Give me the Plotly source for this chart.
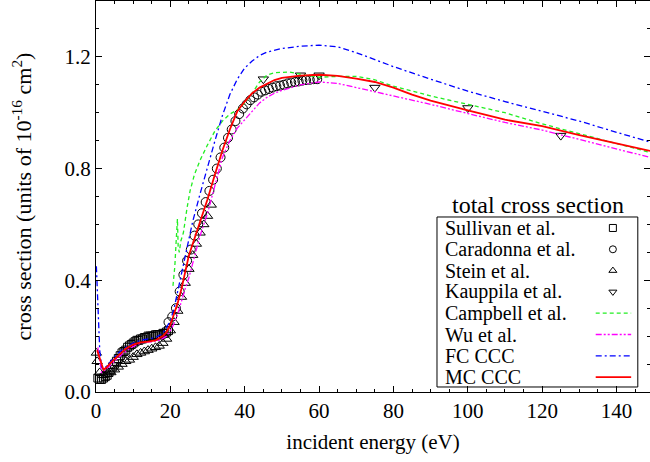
import plotly.graph_objects as go

# -- total cross section: experiment vs. CCC calculations

sullivan_e = [0.5, 1, 1.5, 2, 2.5, 3, 3.5, 4, 4.5, 5, 5.5, 6, 6.5, 7, 7.5, 8, 8.5, 9, 9.5, 10,
              10.5, 11, 11.5, 12, 12.5, 13, 13.5, 14, 14.5, 15, 15.5, 16, 16.5, 17, 17.5, 18, 18.5, 19, 19.5]
sullivan_s = [0.05, 0.045, 0.045, 0.05, 0.055, 0.06, 0.07, 0.08, 0.09, 0.1, 0.11, 0.12, 0.13, 0.14, 0.145,
              0.15, 0.16, 0.165, 0.17, 0.175, 0.18, 0.185, 0.185, 0.19, 0.19, 0.195, 0.195, 0.2, 0.2, 0.2,
              0.2, 0.205, 0.205, 0.205, 0.205, 0.21, 0.21, 0.215, 0.22]

caradonna_e = [19.5, 20.5, 21.5, 22.5, 23.5, 24.5, 25.5, 26.5, 27.5, 28.5, 29.5, 30.5, 31.5, 32.5, 33.5,
               34.5, 35.5, 36.5, 37.5, 38.5, 39.5, 40.5, 41.5, 42.5, 43.5, 44.5, 45.5, 46.5, 47.5, 48.5,
               49.5, 50.5, 51.5, 52.5, 53.5, 54.5, 55.5, 56.5, 57.5, 58.5, 59.5]
caradonna_s = [0.25, 0.27, 0.3, 0.36, 0.42, 0.47, 0.51, 0.56, 0.6, 0.64, 0.68, 0.72, 0.76, 0.8, 0.84,
               0.875, 0.91, 0.94, 0.97, 0.995, 1.015, 1.03, 1.045, 1.055, 1.065, 1.075, 1.08, 1.085, 1.09,
               1.095, 1.097, 1.1, 1.105, 1.108, 1.11, 1.112, 1.115, 1.117, 1.118, 1.12, 1.12]

stein_e = [0.1, 0.3, 1, 2, 3, 4, 5, 6, 7, 8, 9, 10, 11, 12, 13, 14, 15, 16, 17, 18, 19, 20,
           21, 22, 23, 24, 25, 26, 27, 28, 29, 30, 31]
stein_s = [0.14, 0.11, 0.07, 0.06, 0.065, 0.07, 0.08, 0.09, 0.1, 0.11, 0.115, 0.125, 0.135, 0.14,
           0.145, 0.15, 0.155, 0.16, 0.165, 0.175, 0.19, 0.22, 0.25, 0.29, 0.34, 0.39, 0.44, 0.49,
           0.53, 0.57, 0.6, 0.63, 0.67]

kauppila_e = [45, 55, 60, 75, 100, 125]
kauppila_s = [1.12, 1.134, 1.134, 1.09, 1.017, 0.918]

campbell_e = [20.7, 21.2, 21.6, 21.9, 22.1, 22.4, 22.8, 23.5, 24.5, 25.3, 26.5, 28, 30, 32, 34, 36, 38,
              40, 42, 44, 46, 48, 52, 56, 60, 65, 70, 75, 80, 90, 100, 110, 120, 130, 140, 149]
campbell_s = [0.38, 0.45, 0.55, 0.62, 0.52, 0.5, 0.54, 0.57, 0.66, 0.72, 0.78, 0.83, 0.885, 0.935, 0.97,
              0.995, 1.01, 1.035, 1.07, 1.11, 1.135, 1.143, 1.146, 1.135, 1.127, 1.13, 1.13, 1.118,
              1.095, 1.06, 1.03, 1.0, 0.96, 0.925, 0.89, 0.858]

wu_e = [0.5, 1.5, 3, 5, 7, 9, 11, 13, 15, 17, 19, 20, 21, 22, 23, 24, 25, 26, 27, 28, 30, 32, 34, 36,
        38, 40, 42, 44, 46, 48, 50, 55, 60, 65, 70, 75, 80, 90, 100, 110, 120, 130, 140, 149]
wu_s = [0.16, 0.07, 0.085, 0.11, 0.135, 0.155, 0.17, 0.178, 0.18, 0.185, 0.2, 0.22, 0.245, 0.28, 0.33,
        0.37, 0.41, 0.46, 0.52, 0.56, 0.64, 0.74, 0.84, 0.9, 0.945, 0.975, 1.005, 1.035, 1.055, 1.07,
        1.08, 1.1, 1.11, 1.105, 1.09, 1.075, 1.06, 1.03, 0.997, 0.965, 0.938, 0.905, 0.87, 0.84]

fc_e = [0.1, 0.5, 1, 1.5, 2, 4, 6, 8, 10, 12, 14, 16, 18, 20, 21, 22, 24, 26, 28, 30, 32, 34, 36, 38,
        40, 42, 44, 46, 50, 55, 60, 65, 70, 75, 80, 90, 100, 110, 120, 130, 140, 149]
fc_s = [0.45, 0.3, 0.15, 0.09, 0.08, 0.11, 0.14, 0.16, 0.175, 0.185, 0.19, 0.195, 0.21, 0.255, 0.3,
        0.36, 0.49, 0.61, 0.71, 0.81, 0.9, 0.99, 1.065, 1.12, 1.16, 1.185, 1.205, 1.217, 1.23, 1.238,
        1.242, 1.236, 1.215, 1.19, 1.165, 1.12, 1.077, 1.04, 1.005, 0.97, 0.93, 0.895]

mc_e = [0.3, 1, 2, 3, 4, 6, 8, 10, 12, 14, 16, 18, 19, 20, 21, 22, 23, 24, 25, 26, 27, 28, 30, 32, 34,
        36, 38, 40, 42, 44, 46, 48, 50, 55, 60, 65, 70, 75, 80, 85, 90, 95, 100, 110, 120, 130, 140, 149]
mc_s = [0.15, 0.12, 0.08, 0.09, 0.105, 0.13, 0.155, 0.17, 0.178, 0.18, 0.185, 0.2, 0.215, 0.24, 0.28,
        0.32, 0.37, 0.43, 0.49, 0.53, 0.57, 0.605, 0.69, 0.78, 0.865, 0.94, 1.005, 1.04, 1.07, 1.09,
        1.105, 1.117, 1.125, 1.133, 1.136, 1.132, 1.122, 1.11, 1.09, 1.065, 1.043, 1.025, 1.008, 0.975,
        0.952, 0.92, 0.89, 0.863]

font = "Liberation Serif"
mk = {'color': 'rgba(0,0,0,0)', 'line': {'color': 'black', 'width': 1}}

points = [
    ("Sullivan et al.", sullivan_e, sullivan_s, "square-open", 8),
    ("Caradonna et al.", caradonna_e, caradonna_s, "circle-open", 9),
    ("Stein et al.", stein_e, stein_s, "triangle-up-open", 9),
    ("Kauppila et al.", kauppila_e, kauppila_s, "triangle-down-open", 9),
]
curves = [
    ("Campbell et al.", campbell_e, campbell_s, "#22ee22", "4px,3px", 1.3),
    ("Wu et al.", wu_e, wu_s, "#ff00ff", "6px,2px,2px,2px,2px,2px", 1.3),
    ("FC CCC", fc_e, fc_s, "#0000ff", "6px,3px,2px,3px", 1.3),
    ("MC CCC", mc_e, mc_s, "#ff0000", "solid", 1.8),
]

fig = go.Figure()
for name, e, s, sym, sz in points:
    fig.add_trace(go.Scatter(x=e, y=s, mode='markers', name=name, cliponaxis=False,
                             marker=dict(mk, symbol=sym, size=sz, color='black')))
for name, e, s, col, dash, w in curves:
    fig.add_trace(go.Scatter(x=e, y=s, mode='lines', name=name,
                             line={'color': col, 'dash': dash, 'width': w}))

# hand-made legend, gnuplot style (text left, sample right)
x0, x1 = 0.6155, 0.978
row_y = [0.4195 - 0.0545 * i for i in range(8)]
names = [p[0] for p in points] + [c[0] for c in curves]
for i, (name, e, s, sym, sz) in enumerate(points):
    fig.add_trace(go.Scatter(x=[0.933], y=[row_y[i]], mode='markers', xaxis='x2', yaxis='y2',
                             showlegend=False, cliponaxis=False,
                             marker=dict(mk, symbol=sym, size=7, color='black')))
for j, (name, e, s, col, dash, w) in enumerate(curves):
    yy = row_y[4 + j]
    fig.add_trace(go.Scatter(x=[0.902, 0.966], y=[yy, yy], mode='lines', xaxis='x2', yaxis='y2',
                             showlegend=False, cliponaxis=False,
                             line={'color': col, 'dash': dash, 'width': w}))
for i, name in enumerate(names):
    fig.add_annotation(x=0.626, y=row_y[i], xref='paper', yref='paper', text=name, showarrow=False,
                       xanchor='left', yanchor='middle', font={'size': 20, 'color': 'black'})
fig.add_annotation(x=0.798, y=0.478, xref='paper', yref='paper', text="total cross section",
                   showarrow=False, xanchor='center', yanchor='middle', font={'size': 24, 'color': 'black'})
fig.add_shape(type='rect', xref='paper', yref='paper', x0=x0, x1=x1, y0=0.0128, y1=0.4476,
              line={'color': 'black', 'width': 1})

axis_common = dict(ticks='inside', mirror='ticks', showline=True, linecolor='black', linewidth=1,
                   showgrid=False, zeroline=False, tickcolor='black', ticklen=6,
                   tickfont={'size': 21, 'color': 'black'})
fig.update_layout(
    width=650, height=462,
    margin=dict(l=96, r=0, t=1, b=70),
    plot_bgcolor='white', paper_bgcolor='white',
    font={'family': font, 'color': 'black'},
    showlegend=False,
    xaxis=dict(axis_common, range=[0, 149], dtick=20, tick0=0,
               minor=dict(dtick=5, ticks='inside', ticklen=3, tickcolor='black'),
               title=dict(text="incident energy (eV)", font={'size': 21}, standoff=12)),
    yaxis=dict(axis_common, range=[0, 1.4], dtick=0.4, tick0=0, tickformat='.1f',
               minor=dict(dtick=0.1, ticks='inside', ticklen=3, tickcolor='black'),
               title=dict(text="cross section (units of 10<sup>-16</sup> cm<sup>2</sup>)",
                          font={'size': 22}, standoff=26)),
    xaxis2=dict(overlaying='x', range=[0, 1], visible=False),
    yaxis2=dict(overlaying='y', range=[0, 1], visible=False),
)

# page body has a default 8px margin; drop it so the figure sits at the window corner
fig.write_html("out.html", config={'displayModeBar': False},
               post_script="document.body.style.margin='0px';")
